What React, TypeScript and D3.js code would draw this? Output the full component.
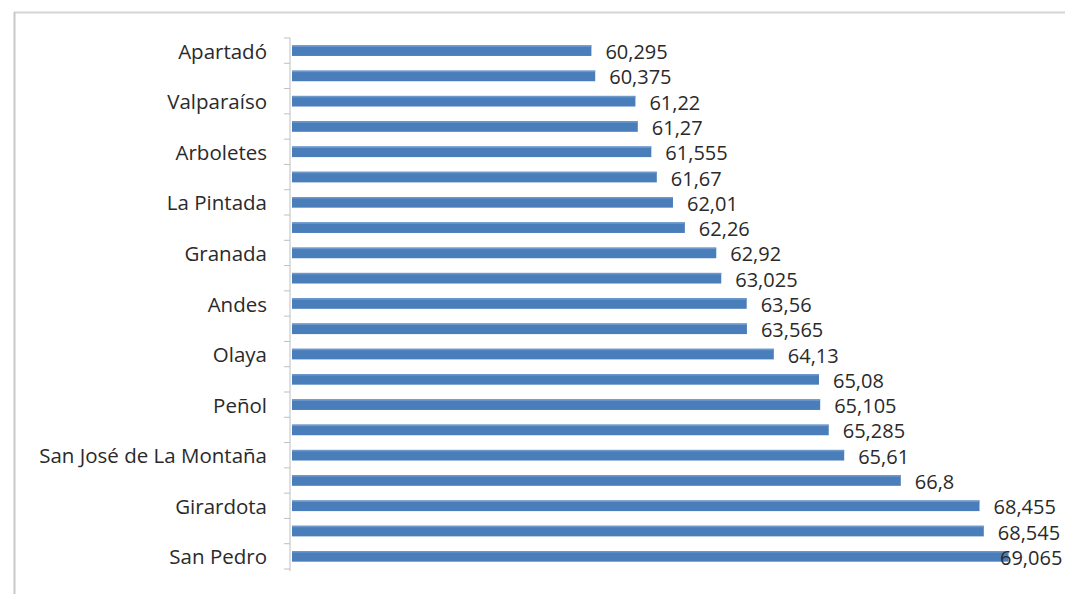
import React from "react";
import * as d3 from "d3";

const categories: string[] = [
  "Apartadó", "", "Valparaíso", "", "Arboletes", "", "La Pintada", "", "Granada", "", "Andes",
  "", "Olaya", "", "Peñol", "", "San José de La Montaña", "", "Girardota", "", "San Pedro", "",
];
const rowIds: string[] = categories.map((_, i) => `r${i}`);
const values: number[] = [
  60.295, 60.375, 61.22, 61.27, 61.555, 61.67, 62.01, 62.26, 62.92, 63.025, 63.56,
  63.565, 64.13, 65.08, 65.105, 65.285, 65.61, 66.8, 68.455, 68.545, 69.065,
];
const valueLabels: string[] = [
  "60,295", "60,375", "61,22", "61,27", "61,555", "61,67", "62,01", "62,26", "62,92", "63,025", "63,56",
  "63,565", "64,13", "65,08", "65,105", "65,285", "65,61", "66,8", "68,455", "68,545", "69,065",
];

const W = 1065;
const H = 594;

export default function App() {
  const n = values.length;
  const ids = rowIds.slice(0, n);
  const x = d3.scaleLinear().domain([54, 70]).range([292, 1053]);
  const y = d3.scaleBand<string>().domain(ids).range([38, 569]).paddingInner(0.58).paddingOuter(0.29);
  const yb = d3.scaleBand<string>().domain(ids).range([38, 569]);
  const font = "'Open Sans', sans-serif";
  return (
    <svg width={W} height={H} style={{ position: "absolute", left: 0, top: 0, background: "#fff" }}>
      <line x1={14} y1={12.5} x2={W} y2={12.5} stroke="#d4d4d4" strokeWidth={2} />
      <line x1={14.5} y1={12} x2={14.5} y2={H} stroke="#c8c8c8" strokeWidth={2} />
      <line x1={290} y1={38} x2={290} y2={571} stroke="#bfbfbf" strokeWidth={1} />
      {d3.range(n + 1).map((i) => {
        const yy = i < n ? (yb(ids[i]) as number) : 569;
        return <line key={"t" + i} x1={284} x2={290} y1={yy} y2={yy} stroke="#bfbfbf" strokeWidth={1} />;
      })}
      {values.map((v, i) => {
        const yy = y(ids[i]) as number;
        const bw = y.bandwidth();
        return (
          <g key={i}>
            <rect x={x(54)} y={yy} width={x(v) - x(54)} height={bw} fill="#4a7ebb" />
            <rect x={x(54)} y={yy} width={x(v) - x(54)} height={1.5} fill="#6d98cc" />
            <text
              x={Math.min(x(v) + 14, 1000)}
              y={yy + bw / 2 + 1}
              dominantBaseline="central"
              fontFamily={font}
              fontSize={20}
              fontWeight={500}
              fill="#2a2a2a"
            >
              {valueLabels[i]}
            </text>
          </g>
        );
      })}
      {categories.slice(0, n).map((c, i) =>
        c ? (
          <text
            key={"c" + i}
            x={267}
            y={(y(ids[i]) as number) + y.bandwidth() / 2}
            textAnchor="end"
            dominantBaseline="central"
            fontFamily={font}
            fontSize={20.5}
            fontWeight={500}
            fill="#2a2a2a"
          >
            {c}
          </text>
        ) : null
      )}
    </svg>
  );
}
